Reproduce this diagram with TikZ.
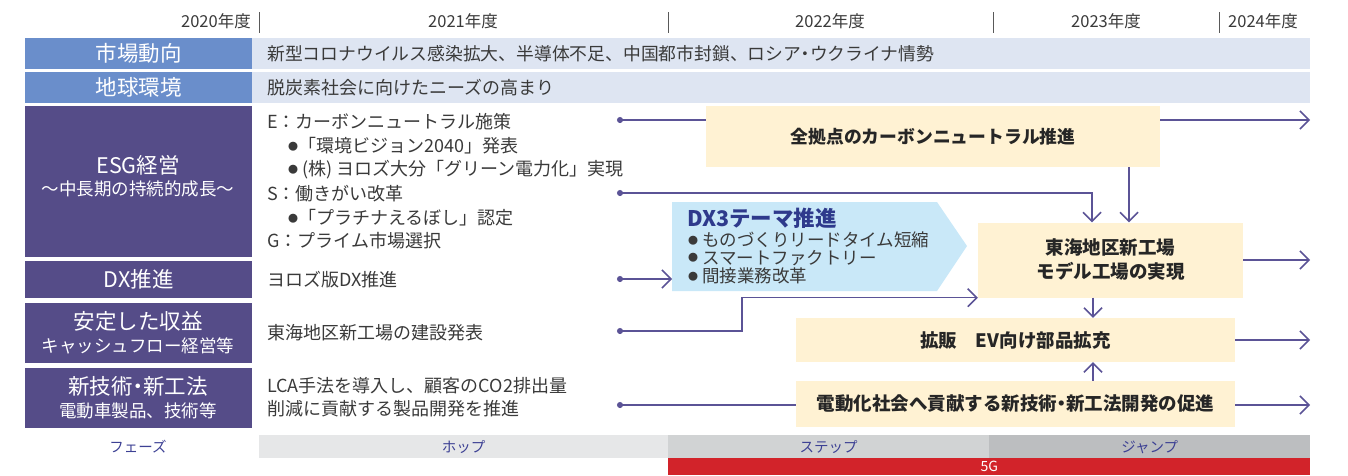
\documentclass[tikz,border=0pt]{standalone}
\usepackage{fontspec}
\setmainfont{Noto Sans CJK JP}
\newfontfamily\pfont[RawFeature=+palt]{Noto Sans CJK JP}
\newcommand\pp[1]{{\pfont #1}}
\newcommand\bul{\raisebox{2.5pt}{\fontsize{10}{10}\selectfont ●}}
\usetikzlibrary{arrows.meta,calc}
\definecolor{hdrblue}{HTML}{6A8ECB}
\definecolor{stripc}{HTML}{DEE5F2}
\definecolor{purp}{HTML}{554C88}
\definecolor{cream}{HTML}{FFF2D3}
\definecolor{arrowc}{HTML}{5B5396}
\definecolor{dxfill}{HTML}{C9E8F8}
\definecolor{dxtitle}{HTML}{2E3A8C}
\definecolor{phasec}{HTML}{3D4194}
\definecolor{txtc}{HTML}{3A3A3A}
\definecolor{gA}{HTML}{E6E7E8}
\definecolor{gB}{HTML}{D1D3D4}
\definecolor{gC}{HTML}{BCBEC0}
\definecolor{redc}{HTML}{D2232A}
\begin{document}
\begin{tikzpicture}[x=1pt,y=-1pt,
  lbox/.style={fill=hdrblue, inner sep=0pt, minimum width=227pt, anchor=north west},
  pbox/.style={fill=purp, inner sep=0pt, minimum width=227pt, anchor=north west},
  ltitle/.style={text=white, inner sep=0pt, font=\fontsize{21.5}{25}\selectfont},
  lsub/.style={text=white, inner sep=0pt, font=\fontsize{17.5}{21}\selectfont},
  strip/.style={fill=stripc, inner sep=0pt, minimum width=1058pt, minimum height=31pt, anchor=north west},
  mtxt/.style={anchor=west, inner sep=0pt, text=txtc, font=\fontsize{18}{21}\selectfont},
  ybox/.style={fill=cream, inner sep=0pt, text=black!85, align=center, font=\bfseries\fontsize{18.5}{24}\selectfont},
  yr/.style={text=txtc, inner sep=0pt, font=\fontsize{16.5}{19}\selectfont},
  tick/.style={draw=black!65, line width=0.9pt},
  phase/.style={inner sep=0pt, minimum height=23pt, anchor=north west, text=phasec, font=\fontsize{14.5}{17}\selectfont},
  conn/.style={draw=arrowc, line width=1.5pt},
  arr/.style={conn, -{Straight Barb[length=9pt,width=18pt]}},
  dotl/.style={conn, {Circle[length=6pt]}-},
  dotarr/.style={conn, {Circle[length=6pt]}-{Straight Barb[length=9pt,width=18pt]}},
  dxt/.style={anchor=west, inner sep=0pt, text=txtc, font=\fontsize{17.5}{20}\selectfont}
]
\useasboundingbox (0,0) rectangle (1348,475);

% year header
\node[yr, anchor=east] (y20) at (251,21) {2020年度};
\node[yr] (y21) at (463,21) {2021年度};
\node[yr] (y22) at (830,21) {2022年度};
\node[yr] (y23) at (1106,21) {2023年度};
\node[yr, anchor=west] (y24) at (1228,21) {2024年度};
\draw[tick] (259,12) -- (259,33);
\draw[tick] (668,12) -- (668,33);
\draw[tick] (993,12) -- (993,33);
\draw[tick] (1219,12) -- (1219,33);

% rows 1,2
\node[lbox, minimum height=31pt] (r1) at (25,38) {};
\node[ltitle] (r1t) at (r1.center) {市場動向};
\node[strip] (s1) at (252,38) {};
\node[mtxt, font=\fontsize{17.8}{21}\selectfont] (s1t) at (267,54) {新型コロナウイルス感染拡大、半導体不足、中国都市封鎖、ロシア\pp{・}ウクライナ情勢};
\node[lbox, minimum height=31pt] (r2) at (25,72) {};
\node[ltitle] (r2t) at (r2.center) {地球環境};
\node[strip] (s2) at (252,72) {};
\node[mtxt] (s2t) at (267,88) {脱炭素社会に向けたニーズの高まり};

% ESG
\node[pbox, minimum height=151pt] (r3) at (25,106) {};
\node[ltitle] (r3t) at (138,165) {ESG経営};
\node[lsub] (r3s) at (138,189) {～中長期の持続的成長～};
\node[mtxt] (e1) at (267,122) {E：カーボンニュートラル施策};
\node[mtxt] (e2) at (288,146) {\bul「環境ビジョン2040」発表};
\node[mtxt] (e3) at (288,170) {\bul\ (株)\ ヨロズ大分「グリーン電力化」実現};
\node[mtxt] (e4) at (267,194) {S：働きがい改革};
\node[mtxt] (e5) at (288,218) {\bul「プラチナえるぼし」認定};
\node[mtxt] (e6) at (267,241) {G：プライム市場選択};

% DX
\node[pbox, minimum height=37pt] (r4) at (25,261) {};
\node[ltitle] (r4t) at (r4.center) {DX推進};
\node[mtxt] (dxt1) at (267,280) {ヨロズ版DX推進};

% 安定した収益
\node[pbox, minimum height=60pt] (r5) at (25,303) {};
\node[ltitle] (r5t) at (138,321) {安定した収益};
\node[lsub] (r5s) at (138,346) {キャッシュフロー経営等};
\node[mtxt] (st1) at (267,333) {東海地区新工場の建設発表};

% 新技術
\node[pbox, minimum height=60pt] (r6) at (25,368) {};
\node[ltitle] (r6t) at (138,386) {新技術\pp{・}新工法};
\node[lsub] (r6s) at (138,411) {電動車製品、技術等};
\node[mtxt] (nt1) at (267,386) {LCA手法を導入し、顧客のCO2排出量};
\node[mtxt] (nt2) at (267,409) {削減に貢献する製品開発を推進};

% phase bars
\node[text=phasec, inner sep=0pt, font=\fontsize{14.5}{17}\selectfont] (ph) at (138,447) {フェーズ};
\node[phase, fill=gA, minimum width=409pt] (hop) at (259,435) {ホップ};
\node[phase, fill=gB, minimum width=321pt] (step) at (668,435) {ステップ};
\node[phase, fill=gC, minimum width=321pt] (jump) at (989,435) {ジャンプ};
\node[inner sep=0pt, minimum height=17pt, minimum width=642pt, anchor=north west, fill=redc, text=white, font=\fontsize{14}{16}\selectfont] (g5) at (668,458) {5G};

% yellow boxes
\node[ybox, minimum width=454pt, minimum height=61pt, font=\bfseries\fontsize{17.8}{22}\selectfont] (cn) at (933,136.5) {全拠点のカーボンニュートラル推進};
\node[ybox, minimum width=265pt, minimum height=75pt] (tk) at (1110.5,260) {東海地区新工場\\モデル工場の実現};
\node[ybox, minimum width=439pt, minimum height=44pt] (kh) at (1015.5,340) {拡販\quad EV向け部品拡充};
\node[ybox, minimum width=439pt, minimum height=46pt] (ev) at (1015.5,404) {電動化社会へ貢献する新技術\pp{・}新工法開発の促進};

% DX3 pentagon
\fill[dxfill] (672,202) -- (937,202) -- (967,246) -- (937,291) -- (672,291) -- cycle;
\node[inner sep=0pt, minimum width=265pt, minimum height=89pt, anchor=north west] (dx3) at (672,202) {};
\node[anchor=west, inner sep=0pt, text=dxtitle, font=\bfseries\fontsize{21.5}{24}\selectfont] (dx3t) at (687,218) {DX3テーマ推進};
\node[dxt] (b1) at (688,240) {\bul\ ものづくりリードタイム短縮};
\node[dxt] (b2) at (688,258) {\bul\ スマートファクトリー};
\node[dxt] (b3) at (688,276) {\bul\ 間接業務改革};

% connectors
\coordinate (d1) at (617,120);
\coordinate (d2) at (617,193);
\coordinate (d3) at (617,279);
\coordinate (d4) at (617,331);
\coordinate (d5) at (617,405);
\coordinate (rx) at (1310,0);
\coordinate (kx) at (742,0);
\coordinate (vx) at (1093,0);
\coordinate (ta) at (1092,0);
\coordinate (tb) at (1129,0);

\draw[dotl] (d1) -- (d1 -| cn.west);
\draw[arr] (d1 -| cn.east) -- (d1 -| rx);
\draw[dotarr] (d2) -| (ta |- tk.north);
\draw[arr] (tb |- cn.south) -- (tb |- tk.north);
\draw[arr] (tk.east) -- (tk.east -| rx);
\draw[dotarr] (d3) -- (d3 -| dx3.west);
\draw[dotarr] (d4) -- (d4 -| kx) |- (tk.south west);
\draw[arr] (vx |- tk.south) -- (vx |- kh.north);
\draw[arr] (kh.east) -- (kh.east -| rx);
\draw[arr] (vx |- ev.north) -- (vx |- kh.south);
\draw[dotl] (d5) -- (d5 -| ev.west);
\draw[arr] (ev.east |- d5) -- (d5 -| rx);
\end{tikzpicture}
\end{document}
